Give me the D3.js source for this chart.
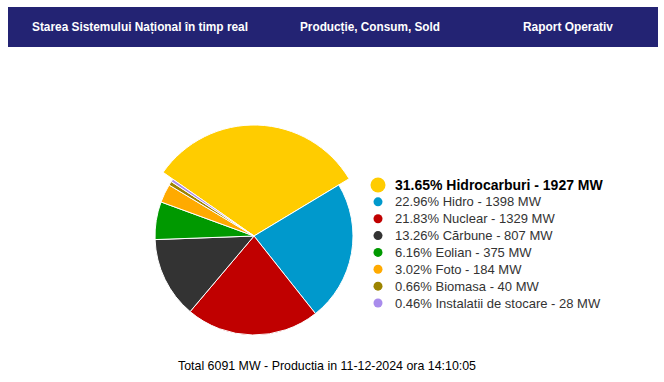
<!DOCTYPE html>
<html>
<head>
<meta charset="utf-8">
<title>Productie SEN</title>
<style>
  body { margin: 0; background: #fff; }
  svg { display: block; }
</style>
</head>
<body>
<script src="https://d3js.org/d3.v7.min.js"></script>
<script>
// data
var sources = ["Hidrocarburi", "Hidro", "Nuclear", "Cărbune", "Eolian", "Foto", "Biomasa", "Instalatii de stocare"];
var mw = [1927, 1398, 1329, 807, 375, 184, 40, 28];
var pct = [31.65, 22.96, 21.83, 13.26, 6.16, 3.02, 0.66, 0.46];
var colors = ["#ffcc00", "#0099cc", "#c00000", "#333333", "#009900", "#ffaa00", "#9c8400", "#a98cec"];
var navItems = ["Starea Sistemului Național în timp real", "Producție, Consum, Sold", "Raport Operativ"];
var footer = "Total 6091 MW - Productia in 11-12-2024 ora 14:10:05";

var width = 664, height = 382;
var svg = d3.select("body").append("svg")
    .attr("width", width).attr("height", height);

// top banner
svg.append("rect")
    .attr("x", 8).attr("y", 7)
    .attr("width", 650).attr("height", 40)
    .attr("fill", "#232373");

var navX = [32, 300, 523], navW = [216, 140, 90];
svg.selectAll("text.nav")
    .data(navItems)
    .enter().append("text")
    .attr("class", "nav")
    .attr("x", function (d, i) { return navX[i]; })
    .attr("y", 31)
    .attr("textLength", function (d, i) { return navW[i]; })
    .attr("lengthAdjust", "spacingAndGlyphs")
    .attr("font-family", "'Liberation Sans Narrow', 'Liberation Sans', Arial, sans-serif")
    .attr("font-weight", "bold")
    .attr("font-size", "12px")
    .attr("fill", "#fff")
    .text(function (d) { return d; });

// pie - the hovered slice (first) is drawn bigger
var cx = 254, cy = 236, r = 99, rHover = 111;
var pie = d3.pie().sort(null)
    .startAngle(-55 * Math.PI / 180)
    .endAngle(-55 * Math.PI / 180 + 2 * Math.PI);
var arcs = pie(mw);
var arc = d3.arc().innerRadius(0)
    .outerRadius(function (d) { return d.index === 0 ? rHover : r; });

var g = svg.append("g").attr("transform", "translate(" + cx + "," + cy + ")");
g.selectAll("path")
    .data(arcs)
    .enter().append("path")
    .attr("d", arc)
    .attr("fill", function (d, i) { return colors[i]; })
    .attr("stroke", "#fff")
    .attr("stroke-width", 1)
    .attr("stroke-linejoin", "round");

// legend
var ly = d3.scaleLinear().domain([0, sources.length - 1]).range([185, 303]);
var leg = svg.selectAll("g.leg")
    .data(sources)
    .enter().append("g")
    .attr("class", "leg")
    .attr("transform", function (d, i) { return "translate(378," + ly(i) + ")"; });

leg.append("circle")
    .attr("r", function (d, i) { return i === 0 ? 7.5 : 4.5; })
    .attr("fill", function (d, i) { return colors[i]; });

leg.append("text")
    .attr("x", 17)
    .attr("y", 0)
    .attr("dy", "0.35em")
    .attr("font-family", "'Liberation Sans', Arial, sans-serif")
    .attr("font-size", function (d, i) { return i === 0 ? "14px" : "13px"; })
    .attr("font-weight", function (d, i) { return i === 0 ? "bold" : "normal"; })
    .attr("fill", function (d, i) { return i === 0 ? "#000" : "#333"; })
    .text(function (d, i) { return pct[i].toFixed(2) + "% " + d + " - " + mw[i] + " MW"; });

// footer
svg.append("text")
    .attr("x", 178).attr("y", 370)
    .attr("font-family", "'Liberation Sans', Arial, sans-serif")
    .attr("font-size", "12.4px")
    .attr("fill", "#000")
    .text(footer);
</script>
</body>
</html>
